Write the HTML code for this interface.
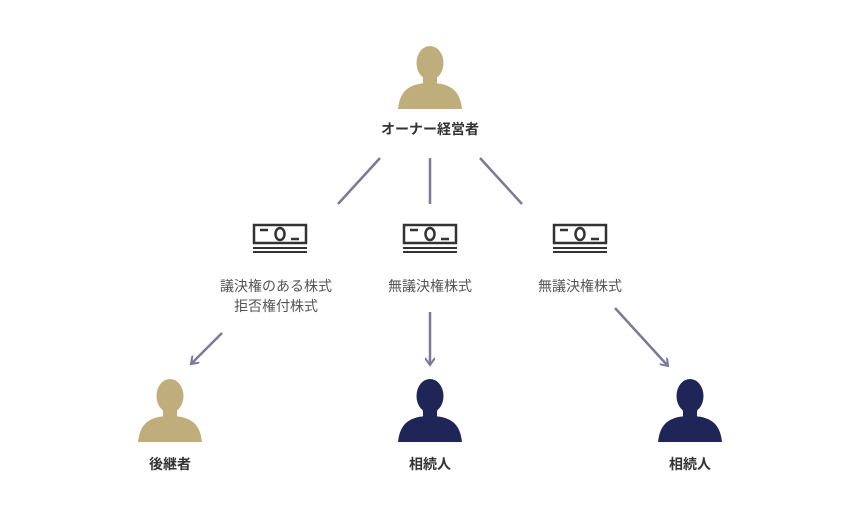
<!DOCTYPE html><html><head><meta charset="utf-8"><style>
body{margin:0;background:#fff;width:860px;height:520px;overflow:hidden}
text{font-family:"Liberation Sans","Noto Sans CJK JP",sans-serif;font-size:14px;text-anchor:middle}
</style></head><body>
<svg width="860" height="520" xmlns="http://www.w3.org/2000/svg">
<defs>
<g id="p"><ellipse cx="0" cy="14" rx="13.5" ry="17"/><rect x="-7" y="24" width="14" height="12"/><path d="M-32 60 C-30 41 -20 34 0 34 C20 34 30 41 32 60 Z"/></g>
<g id="b" fill="none" stroke="#333" stroke-width="2.5"><rect x="-26" y="0" width="52" height="18"/><line x1="-20" y1="5" x2="-12" y2="5"/><ellipse cx="0" cy="9" rx="4.5" ry="6" stroke-width="2.5"/><line x1="11" y1="14" x2="19" y2="14"/><line x1="-27" y1="23" x2="27" y2="23" stroke-width="2"/><line x1="-27" y1="27" x2="27" y2="27" stroke-width="2"/></g>
<marker id="a" markerWidth="10" markerHeight="10" refX="8" refY="5" orient="auto" markerUnits="userSpaceOnUse"><path d="M1 0 L8 5 L1 10" fill="none" stroke="#7a7a98" stroke-width="2"/></marker>
</defs>
<use href="#p" x="430" y="49" fill="#bfae7c"/>
<text x="430" y="134" font-weight="bold" fill="#333">オーナー経営者</text>
<g stroke="#7a7a98" stroke-width="2.5">
<line x1="380" y1="158" x2="338" y2="204"/><line x1="430" y1="158" x2="430" y2="204"/><line x1="480" y1="158" x2="522" y2="204"/>
<line x1="222" y1="333" x2="191" y2="364" marker-end="url(#a)"/><line x1="430" y1="312" x2="430" y2="365" marker-end="url(#a)"/><line x1="615" y1="308" x2="668" y2="366" marker-end="url(#a)"/>
</g>
<use href="#b" x="280" y="225"/><use href="#b" x="430" y="225"/><use href="#b" x="580" y="225"/>
<text x="276" y="291" fill="#555">議決権のある株式</text>
<text x="276" y="311" fill="#555">拒否権付株式</text>
<text x="430" y="291" fill="#555">無議決権株式</text>
<text x="580" y="291" fill="#555">無議決権株式</text>
<use href="#p" x="170" y="382" fill="#bfae7c"/>
<use href="#p" x="430" y="382" fill="#1f2557"/>
<use href="#p" x="690" y="382" fill="#1f2557"/>
<text x="170" y="469" font-weight="bold" fill="#333">後継者</text>
<text x="430" y="469" font-weight="bold" fill="#333">相続人</text>
<text x="690" y="469" font-weight="bold" fill="#333">相続人</text>
</svg></body></html>
